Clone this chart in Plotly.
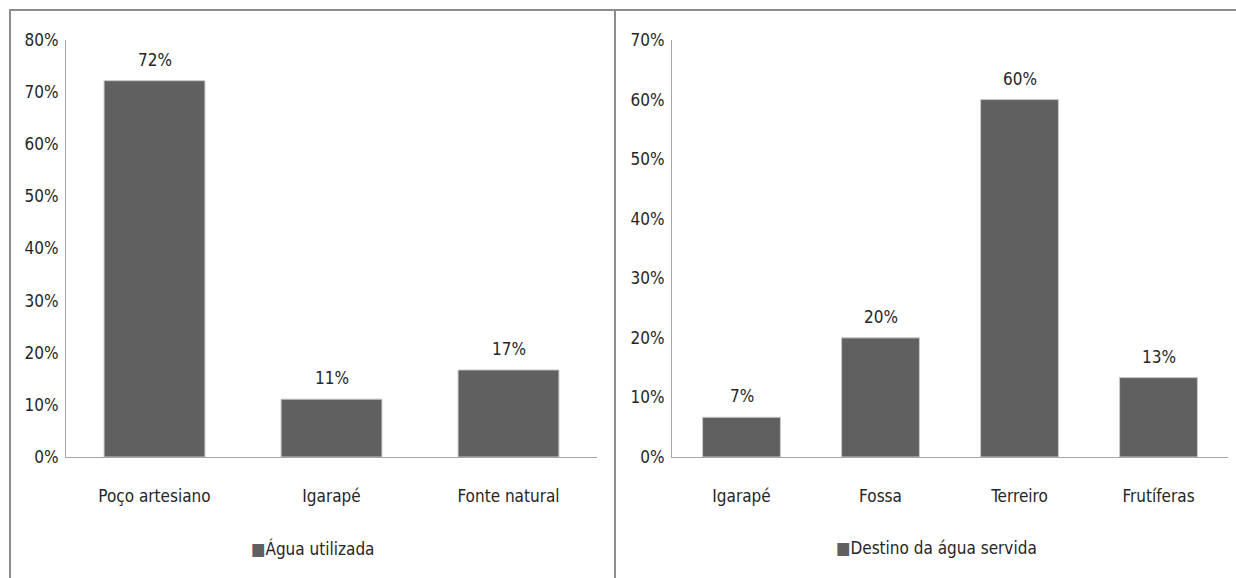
import plotly.graph_objects as go

W, H = 1236, 578

cats_left = ["Poço artesiano", "Igarapé", "Fonte natural"]
vals_left = [0.722, 0.111, 0.167]
name_left = "Água utilizada"

cats_right = ["Igarapé", "Fossa", "Terreiro", "Frutíferas"]
vals_right = [0.0667, 0.20, 0.60, 0.1333]
name_right = "Destino da água servida"

FONT = "DejaVu Sans Condensed, Liberation Sans Narrow, sans-serif"
FS = 17
BAR = "#606060"
TXT = "#262626"

def px(x):
    return x / W

def py(y):
    return (H - y) / H

fig = go.Figure()
fig.add_trace(go.Bar(
    x=cats_left, y=vals_left, name=name_left, xaxis="x", yaxis="y",
    marker=dict(color=BAR, line=dict(color="#c8c8c8", width=1)),
    width=0.57, showlegend=False,
))
fig.add_trace(go.Bar(
    x=cats_right, y=vals_right, name=name_right, xaxis="x2", yaxis="y2",
    marker=dict(color=BAR, line=dict(color="#c8c8c8", width=1)),
    width=0.56, showlegend=False,
))

annotations = []
for cats, vals, xr, yr in [(cats_left, vals_left, "x", "y"), (cats_right, vals_right, "x2", "y2")]:
    for c, v in zip(cats, vals):
        annotations.append(dict(
            x=c, y=v, xref=xr, yref=yr, text=f"{round(v*100)}%", showarrow=False,
            yanchor="bottom", yshift=9, font=dict(family=FONT, size=FS, color=TXT)))

for name, xc in [(name_left, 312), (name_right, 936)]:
    annotations.append(dict(
        x=px(xc), y=py(548), xref="paper", yref="paper", xanchor="center", yanchor="middle",
        showarrow=False,
        text=f'<span style="color:{BAR}">■</span>{name}',
        font=dict(family=FONT, size=FS, color=TXT)))

axis_common = dict(showgrid=False, zeroline=False, showline=True,
                   linecolor="#a6a6a6", linewidth=1, ticks="",
                   tickfont=dict(family=FONT, size=FS, color=TXT))

fig.update_layout(
    width=W, height=H, margin=dict(l=0, r=0, t=0, b=0, autoexpand=False),
    paper_bgcolor="white", plot_bgcolor="white",
    font=dict(family=FONT, size=FS, color=TXT),
    showlegend=False,
    xaxis=dict(domain=[px(66), px(597)], anchor="y", automargin=False, **axis_common),
    yaxis=dict(domain=[py(457), py(40)], anchor="x", range=[0, 0.8], automargin=False,
               dtick=0.1, tickformat=".0%", **axis_common),
    xaxis2=dict(domain=[px(672), px(1228)], anchor="y2", automargin=False, **axis_common),
    yaxis2=dict(domain=[py(457), py(40)], anchor="x2", range=[0, 0.7], automargin=False,
                dtick=0.1, tickformat=".0%", **axis_common),
    annotations=annotations,
    shapes=[
        dict(type="line", xref="paper", yref="paper", x0=px(9), x1=1, y0=py(10), y1=py(10),
             line=dict(color="#8c8c8c", width=2)),
        dict(type="line", xref="paper", yref="paper", x0=px(10), x1=px(10), y0=0, y1=py(10),
             line=dict(color="#8c8c8c", width=2)),
        dict(type="line", xref="paper", yref="paper", x0=px(615), x1=px(615), y0=0, y1=py(10),
             line=dict(color="#8c8c8c", width=2)),
    ],
)
fig.update_yaxes(ticklabelstandoff=3)
fig.update_xaxes(ticklabelstandoff=24)

fig.write_html("out.html")
